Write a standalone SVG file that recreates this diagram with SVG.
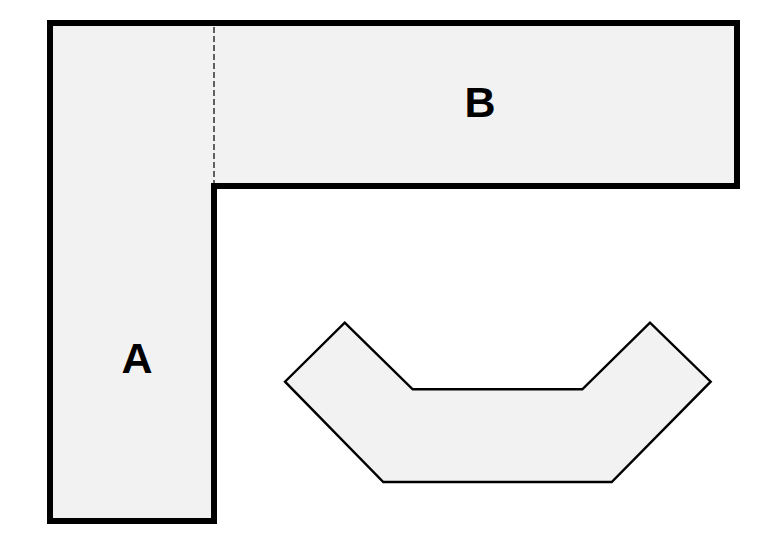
<svg xmlns="http://www.w3.org/2000/svg" width="780" height="560" viewBox="0 0 780 560">
<style>
.room{fill:#f2f2f2;stroke:#000;stroke-width:6;stroke-linejoin:miter}
.piece{fill:#f2f2f2;stroke:#000;stroke-width:2.4;stroke-linejoin:miter}
.lbl{font-family:"Liberation Sans",Arial,sans-serif;font-weight:bold;font-size:43px;fill:#000;text-anchor:middle}
</style>
<rect width="780" height="560" fill="#fff"/>
<g id="room">
<path class="room" d="M50,23 L737,23 L737,186 L214,186 L214,521 L50,521 Z"/>
</g>
<g id="connectors">
<line x1="214" y1="27" x2="214" y2="183" stroke="#000" stroke-width="1.2" stroke-dasharray="6,3"/>
</g>
<g id="A"><text class="lbl" x="137" y="373">A</text></g>
<g id="B"><text class="lbl" x="480" y="117">B</text></g>
<g id="piece">
<path class="piece" d="M344.7,322.7 L412.7,389.3 L582.3,389.3 L650,322.7 L710.7,381.7 L611.7,482 L383.3,482 L285,381.7 Z"/>
</g>
</svg>
